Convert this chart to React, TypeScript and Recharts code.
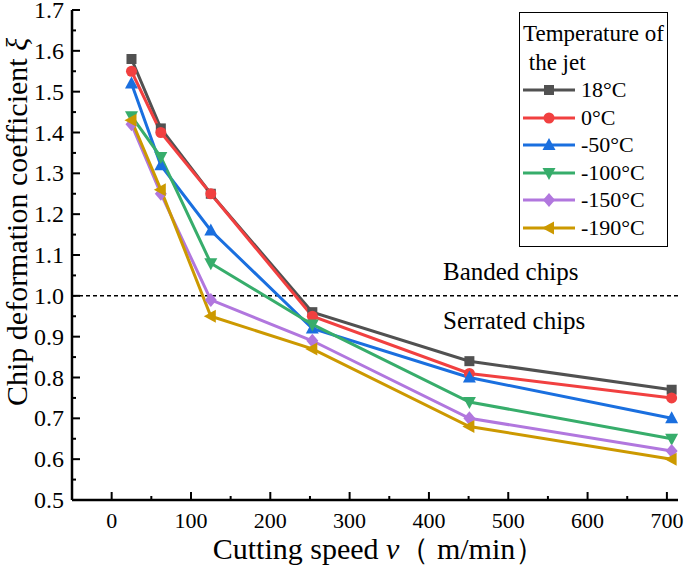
import React from 'react';
import { LineChart, Line, XAxis, YAxis, ReferenceLine } from 'recharts';

const speeds = [25, 62, 125, 253, 451, 706];
const temp18 = [1.58, 1.41, 1.25, 0.96, 0.84, 0.77];
const temp0 = [1.55, 1.40, 1.25, 0.95, 0.81, 0.75];
const tempM50 = [1.52, 1.32, 1.16, 0.92, 0.80, 0.70];
const tempM100 = [1.44, 1.34, 1.08, 0.93, 0.74, 0.65];
const tempM150 = [1.42, 1.25, 0.99, 0.89, 0.70, 0.62];
const tempM190 = [1.43, 1.26, 0.95, 0.87, 0.68, 0.60];

const xTicks = [0, 50, 100, 150, 200, 250, 300, 350, 400, 450, 500, 550, 600, 650, 700];
const yTicks = [0.5, 0.55, 0.6, 0.65, 0.7, 0.75, 0.8, 0.85, 0.9, 0.95, 1.0, 1.05, 1.1, 1.15, 1.2, 1.25, 1.3, 1.35, 1.4, 1.45, 1.5, 1.55, 1.6, 1.65, 1.7];

type Shape = 'square' | 'circle' | 'up' | 'down' | 'diamond' | 'left';

const series: { key: string; name: string; color: string; shape: Shape; values: number[] }[] = [
  { key: 't18', name: '18°C', color: '#515151', shape: 'square', values: temp18 },
  { key: 't0', name: '0°C', color: '#F14040', shape: 'circle', values: temp0 },
  { key: 'tm50', name: '-50°C', color: '#1A6FDF', shape: 'up', values: tempM50 },
  { key: 'tm100', name: '-100°C', color: '#37AD6B', shape: 'down', values: tempM100 },
  { key: 'tm150', name: '-150°C', color: '#B177DE', shape: 'diamond', values: tempM150 },
  { key: 'tm190', name: '-190°C', color: '#CC9900', shape: 'left', values: tempM190 },
];

const data = speeds.map((v, i) => {
  const row: Record<string, number> = { v };
  series.forEach((s) => { row[s.key] = s.values[i]; });
  return row;
});

const FONT = '"Liberation Serif", "Times New Roman", serif';

const Marker = ({ shape, cx, cy, color }: { shape: Shape; cx: number; cy: number; color: string }) => {
  switch (shape) {
    case 'square':
      return <rect x={cx - 5} y={cy - 5} width={10} height={10} fill={color} />;
    case 'circle':
      return <circle cx={cx} cy={cy} r={5.5} fill={color} />;
    case 'up':
      return <polygon points={`${cx},${cy - 7} ${cx - 6.5},${cy + 5} ${cx + 6.5},${cy + 5}`} fill={color} />;
    case 'down':
      return <polygon points={`${cx},${cy + 7} ${cx - 6.5},${cy - 5} ${cx + 6.5},${cy - 5}`} fill={color} />;
    case 'diamond':
      return <polygon points={`${cx},${cy - 7} ${cx + 6},${cy} ${cx},${cy + 7} ${cx - 6},${cy}`} fill={color} />;
    default:
      return <polygon points={`${cx - 7},${cy} ${cx + 5},${cy - 6.5} ${cx + 5},${cy + 6.5}`} fill={color} />;
  }
};

const isMajorX = (v: number) => v % 100 === 0;
const isMajorY = (v: number) => Math.abs(v * 10 - Math.round(v * 10)) < 1e-6;

const BottomTick = (props: any) => {
  const { x, y, payload } = props;
  const major = isMajorX(payload.value);
  return (
    <g>
      <line x1={x} x2={x} y1={y} y2={y - (major ? 8 : 4)} stroke="#000" strokeWidth={2} />
      {major && (
        <text x={x} y={y + 28} textAnchor="middle" fontSize={22} fontFamily={FONT} fill="#000">
          {payload.value}
        </text>
      )}
    </g>
  );
};

const TopTick = (props: any) => {
  const { x, y, payload } = props;
  const major = isMajorX(payload.value);
  return <line x1={x} x2={x} y1={y} y2={y + (major ? 8 : 4)} stroke="#000" strokeWidth={2} />;
};

const LeftTick = (props: any) => {
  const { x, y, payload } = props;
  const major = isMajorY(payload.value);
  return (
    <g>
      <line x1={x} x2={x + (major ? 8 : 4)} y1={y} y2={y} stroke="#000" strokeWidth={2} />
      {major && (
        <text x={x - 8} y={y + 8} textAnchor="end" fontSize={24} fontFamily={FONT} fill="#000">
          {payload.value.toFixed(1)}
        </text>
      )}
    </g>
  );
};

const RightTick = (props: any) => {
  const { x, y, payload } = props;
  const major = isMajorY(payload.value);
  return <line x1={x} x2={x - (major ? 8 : 4)} y1={y} y2={y} stroke="#000" strokeWidth={2} />;
};

const axisLine = { stroke: '#000', strokeWidth: 2.5 };

const App: React.FC = () => {
  return (
    <div style={{ position: 'relative', width: 685, height: 566, background: '#fff', fontFamily: FONT }}>
      <style>{'body{margin:0}'}</style>
      <LineChart width={685} height={566} data={data} margin={{ top: 10, right: 7, bottom: 6, left: 12 }}>
        <XAxis
          dataKey="v"
          type="number"
          domain={[-50, 714]}
          allowDataOverflow
          ticks={xTicks}
          interval={0}
          tick={<BottomTick />}
          tickLine={false}
          tickSize={0}
          tickMargin={0}
          axisLine={axisLine}
          height={60}
        />
        <XAxis
          xAxisId="top"
          orientation="top"
          dataKey="v"
          type="number"
          domain={[-50, 714]}
          allowDataOverflow
          ticks={xTicks}
          interval={0}
          tick={<TopTick />}
          tickLine={false}
          tickSize={0}
          tickMargin={0}
          axisLine={axisLine}
          height={0}
        />
        <YAxis
          type="number"
          domain={[0.5, 1.7]}
          allowDataOverflow
          ticks={yTicks}
          interval={0}
          tick={<LeftTick />}
          tickLine={false}
          tickSize={0}
          tickMargin={0}
          axisLine={axisLine}
          width={60}
        />
        <YAxis
          yAxisId="right"
          orientation="right"
          type="number"
          domain={[0.5, 1.7]}
          allowDataOverflow
          ticks={yTicks}
          interval={0}
          tick={<RightTick />}
          tickLine={false}
          tickSize={0}
          tickMargin={0}
          axisLine={axisLine}
          width={0}
        />
        <ReferenceLine y={1} stroke="#000" strokeWidth={1.5} strokeDasharray="4 3" />
        {series.map((s) => (
          <Line
            key={s.key}
            dataKey={s.key}
            name={s.name}
            type="linear"
            stroke={s.color}
            strokeWidth={3}
            isAnimationActive={false}
            dot={(p: any) => <Marker key={`${s.key}-${p.index}`} shape={s.shape} cx={p.cx} cy={p.cy} color={s.color} />}
            activeDot={false}
          />
        ))}
      </LineChart>

      <div style={{ position: 'absolute', left: 443, top: 259, fontSize: 25, lineHeight: '25px', whiteSpace: 'nowrap' }}>Banded chips</div>
      <div style={{ position: 'absolute', left: 443, top: 308, fontSize: 25, lineHeight: '25px', whiteSpace: 'nowrap' }}>Serrated chips</div>

      <div
        style={{
          position: 'absolute', left: 0, top: 532, width: 758, textAlign: 'center', fontSize: 30, whiteSpace: 'nowrap', lineHeight: '34px',
        }}
      >
        Cutting speed <i>v</i>（ m/min）
      </div>
      <div
        style={{
          position: 'absolute', left: 17, top: 222, width: 460, marginLeft: -230, marginTop: -17, textAlign: 'center',
          fontSize: 30, lineHeight: '34px', whiteSpace: 'nowrap', transform: 'rotate(-90deg)',
        }}
      >
        Chip deformation coefficient <i>ξ</i>
      </div>

      <div
        style={{
          position: 'absolute', left: 519, top: 12, width: 149, height: 235, boxSizing: 'border-box',
          border: '1.5px solid #000', background: '#fff',
        }}
      >
        <div style={{ position: 'absolute', left: 3, top: 6, fontSize: 23, lineHeight: '29px', whiteSpace: 'nowrap' }}>
          Temperature of<br />&nbsp;the jet
        </div>
        {series.map((s, i) => (
          <div key={s.key} style={{ position: 'absolute', left: 2, top: 64 + i * 27.6, height: 26, display: 'flex', alignItems: 'center' }}>
            <svg width={54} height={26}>
              <line x1={1} x2={53} y1={13} y2={13} stroke={s.color} strokeWidth={3} />
              <Marker shape={s.shape} cx={27} cy={13} color={s.color} />
            </svg>
            <span style={{ fontSize: 22, marginLeft: 5, whiteSpace: 'nowrap' }}>{s.name}</span>
          </div>
        ))}
      </div>
    </div>
  );
};

export default App;
